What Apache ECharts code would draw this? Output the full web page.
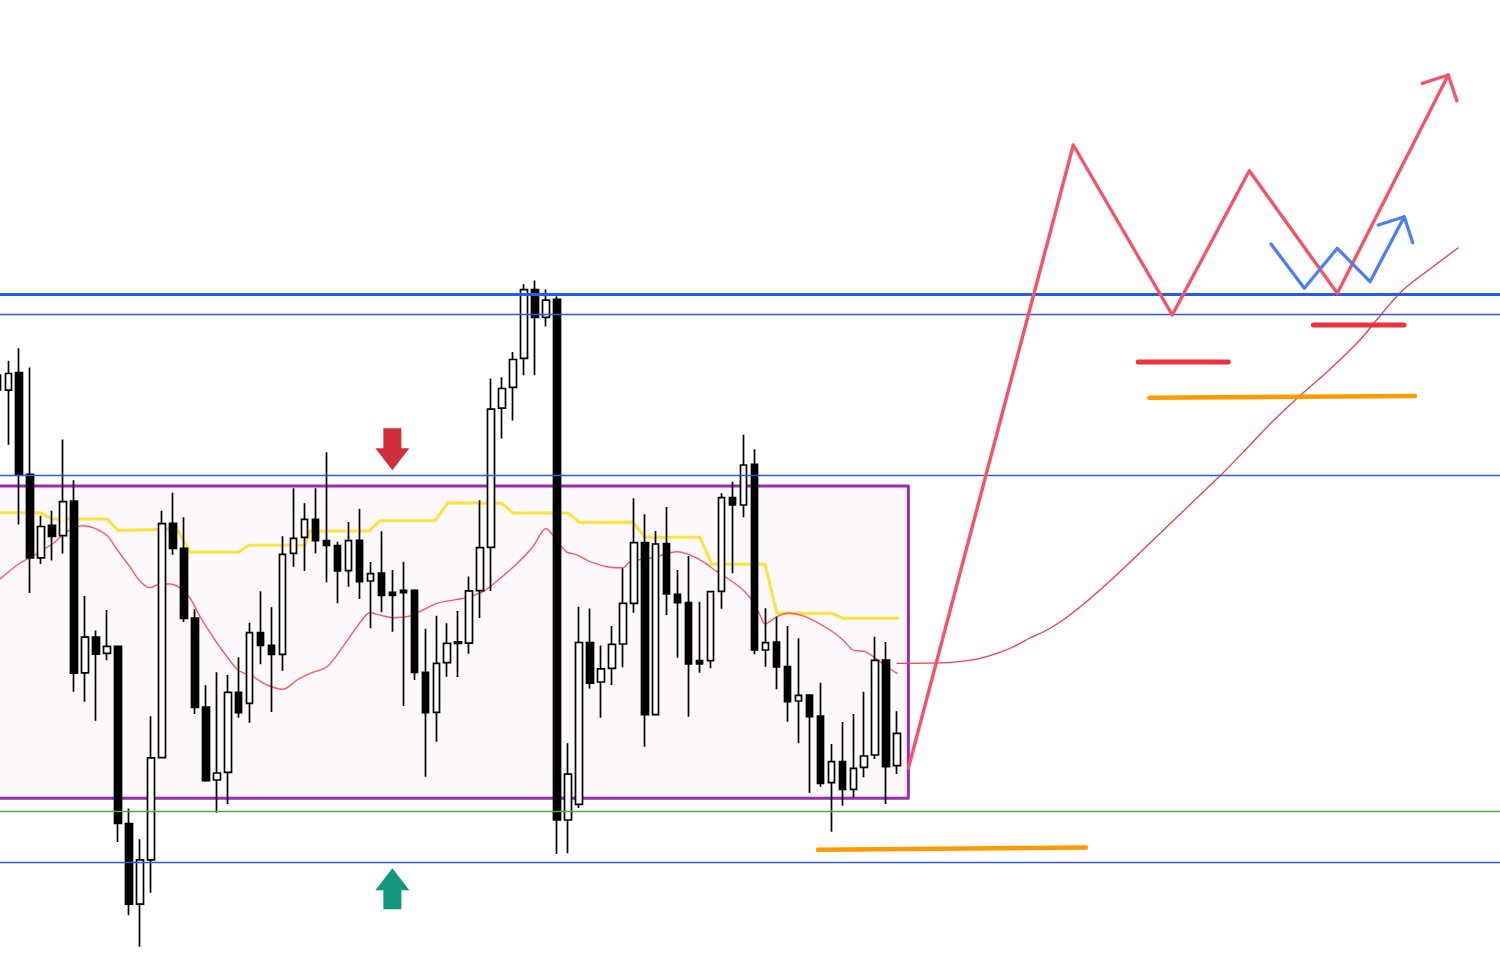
<!DOCTYPE html>
<html><head><meta charset="utf-8">
<script src="https://cdn.jsdelivr.net/npm/echarts@6/dist/echarts.min.js"></script>
<style>html,body{margin:0;padding:0;background:#ffffff}#c{width:1500px;height:963px}</style>
</head><body><div id="c"></div>
<script>
// ---- candle data (price index units), bar index = position in array ----
const opens = [625,609.9,627.3,525.7,442.2,474.7,464.4,498.8,327.2,362.8,346.6,353.7,176.5,95.9,140.1,242.3,476.7,451.7,382,293,220,227.7,307.7,296.7,367.3,354.7,345.7,446.7,462.7,480.7,459.3,454.3,429.3,459.7,419,427,407.7,409.7,409.7,327.7,287.7,337.3,358.2,356.8,409.4,452.7,591.9,612.6,641.6,710.4,682.6,700.7,180,195.7,357.5,318,331.7,356,396.7,457.3,285.3,456.3,405.7,397.3,339.3,339.3,408.7,502.3,495,535.7,350,358,333.3,299,305,284,217.3,238.3,210.7,232.7,245,340,234.3];
const closes = [610,626.5,525.3,442.2,473.5,463.6,498.4,326.8,362.8,345.8,353.7,176.5,95.9,140.1,242.2,476.3,451.7,381.7,292.7,219.3,227,307.7,287.3,367.3,354.7,345.7,445.7,461.7,480.7,459.3,454.7,429,459.3,418.3,426.3,404.7,404.7,407.3,327.7,287.3,336.7,356.7,356.7,409.1,452.3,590.8,611.5,640.5,710.4,682.6,699.9,180,225.8,357.5,316.9,331.2,355.7,396.7,457.3,285.3,456,406,397.3,336,336,408.3,502.3,495,535,350,357.3,333,298.3,304.7,283.3,216.7,238.3,210.7,231.7,244,339.7,233.3,266.7];
const lows = [600,555.3,475.5,407,436,439.5,446.6,308.2,298.3,279.3,339.8,158,84.8,53.2,107.3,242.3,445.3,378,286,218.3,187.3,196,282.3,277.3,335.7,288,329.3,433.3,429,446.7,417.7,396.7,413.3,401,371.7,387.7,368.3,294,320,223.3,258.3,323.3,322.9,346.2,382,409,561.4,579.5,624.7,624.7,673.6,146.1,146.8,192,311.6,282.3,315,332.7,387.3,253.3,285.3,385,342.3,283.3,327.3,331.7,391.3,426.7,482.7,345.7,333.3,310.7,278.3,256.7,207.3,213.3,168.3,194.3,202.7,222.7,241,196,226];
const highs = [632,639.2,651.8,632.4,484.2,489.3,560.5,519.7,403.9,369.5,390,353.7,191.6,160.7,283.7,489.3,507.3,482.7,390.7,314.7,327.7,325,342.7,377.3,408.7,392.7,463.7,511.7,496.7,511.7,547.7,458.3,478,491.3,438,468.7,430,438.3,410.7,371.3,384.3,376.7,389.1,423.4,499.7,621.6,622.8,648,715.7,719.5,710.4,703.7,256.7,393.3,391.4,354.5,374,431.7,501.7,485.7,469,493,430,444,398.3,408.3,506.7,518.3,565.3,550.7,391.7,383.3,374,361.7,305,317.3,256,278,286,308.3,363.3,358,288.7];

// ---- indicator lines [barIndex, price] ----
const maLine = [[0.25,421],[2.07,437],[3.25,444],[5.08,456.5],[6.35,468.3],[7.81,474.3],[8.72,472.3],[10.0,464.4],[10.91,450.5],[12.09,433],[13.0,419],[13.91,412.2],[14.83,416],[15.74,416],[16.65,412],[17.56,402],[18.47,383.3],[20.02,357],[20.93,343.3],[21.93,330],[23.3,323.3],[24.58,315],[26.03,310.7],[27.31,320],[28.5,326.7],[30.04,333.3],[31.5,353.3],[32.78,373.3],[33.96,387.3],[34.87,385],[36.06,382.3],[37.6,384],[38.79,390],[40.07,396.7],[42.16,401],[42.8,402.7],[44.26,408.3],[45.81,421.5],[47.36,436.5],[48.82,453.5],[50.0,471.5],[51.0,459.1],[51.91,447.8],[52.83,445.2],[54.01,438.4],[55.83,432.8],[57.02,432.3],[57.66,438.3],[58.84,440.7],[60.12,443.3],[61.03,446.7],[61.94,448.3],[63.12,445],[64.31,438.3],[65.58,428.3],[66.77,420],[67.95,410],[68.86,398.3],[69.5,385],[69.96,376],[71.05,383.3],[72.05,386.7],[73.78,382.7],[75.88,370],[77.06,360],[77.97,350],[79.07,348.3],[80.16,340.7],[81.07,333.3],[81.99,326.7]];
const htfLine = [[0.25,487.3],[3.89,487.3],[4.98,481],[10.0,481],[11.0,469.5],[16.38,471],[17.56,447.7],[21.93,447.7],[22.94,454.7],[28.04,455],[28.49,469],[33.87,469],[34.87,479.3],[39.89,479.3],[41.07,497.3],[45.99,496.7],[46.99,487],[52.0,487],[53.1,477.6],[57.93,477.7],[59.02,462.7],[64.03,462.7],[65.13,435.7],[69.96,435.7],[71.05,386.7],[76.06,386.7],[77.06,381.7],[82.07,381.7]];

// ---- drawn scenario ----
const maProjection = [[81.99,336.7],[86.54,337.3],[88.37,339.3],[89.55,341.7],[91.1,346.7],[92.56,353],[94.1,362],[95.65,370],[97.11,380],[98.66,393],[100.48,410],[102.76,433],[105.04,457],[107.32,481],[109.6,505],[111.87,529],[114.15,555],[116.25,579],[118.98,607],[121.17,628],[124.17,660],[125.99,684],[128.09,710],[130.55,731],[133.11,752]];
const redPath = [[83.02,231.7],[98.05,855],[107.07,685],[114.09,829.3],[122.11,706.7],[132.22,925]];
const redHead = [[129.85,916.7],[132.22,925],[133.0,899.3]];
const bluePath = [[116.07,756],[119.1,711.7],[122.11,751.7],[125.09,718.3],[128.21,783.3]];
const blueHead = [[125.84,775],[128.21,783.3],[128.98,757.3]];
const orangeLow = [[74.79,150.2],[99.21,152.4]];
const orangeHigh = [[104.98,602.3],[129.19,604]];
const redMarkA = [[103.97,638],[112.17,638]];
const redMarkB = [[119.92,675],[128.19,675]];

// ---- horizontal levels & range box ----
const levelMain = 705.7, levelUpper = 686, levelMid = 524.3, levelGreen = 188.3, levelLow = 137.5;
const boxLeft = -1, boxRight = 83.02, boxTop = 514, boxBottom = 201.7;
const sellArrow = [36, 550.8], buyArrow = [36, 111.2];

// visible bar-index window
const xMin = 0.246, xMax = 136.933;

const candleData = opens.map((o, i) => [i, o, closes[i], lows[i], highs[i]]);
const boxOutline = [[boxLeft, boxTop], [boxRight, boxTop], [boxRight, boxBottom], [boxLeft, boxBottom]];

function poly(data, color, width, z, smooth) {
  return {type: 'line', data: data, symbol: 'none', smooth: smooth || false,
    z: z, silent: true, lineStyle: {color: color, width: width, cap: 'round', join: 'round'}};
}
function hl(v, color, width) { return {yAxis: v, lineStyle: {color: color, width: width, type: 'solid'}}; }

const chart = echarts.init(document.getElementById('c'));
chart.setOption({
  animation: false,
  backgroundColor: '#ffffff',
  grid: {left: 0, right: 0, top: 0, bottom: 0, containLabel: false},
  xAxis: [{type: 'value', min: xMin, max: xMax, show: false}],
  yAxis: [{type: 'value', min: 37, max: 1000, show: false}],
  series: [
    {type: 'line', data: [[boxLeft, boxTop]], symbol: 'none', lineStyle: {opacity: 0}, z: 1, silent: true,
      markArea: {silent: true, itemStyle: {color: '#fcf8fc', borderWidth: 0},
        data: [[{coord: [boxLeft, boxTop]}, {coord: [boxRight, boxBottom]}]]},
      markLine: {silent: true, symbol: ['none', 'none'], label: {show: false},
        data: [hl(levelMain, '#2a5ae6', 3), hl(levelUpper, '#2a5ae6', 1.4), hl(levelMid, '#2a5ae6', 1.4),
               hl(levelGreen, '#4ca64c', 1.4), hl(levelLow, '#2a5ae6', 1.4)]},
      markPoint: {silent: true, label: {show: false},
        data: [
          {coord: sellArrow, symbol: 'path://M8,0 L26,0 L26,20 L34,20 L17,42 L0,20 L8,20 Z', symbolSize: [34, 42], itemStyle: {color: '#d22f3d'}},
          {coord: buyArrow, symbol: 'path://M17,0 L34,22 L26,22 L26,41 L8,41 L8,22 L0,22 Z', symbolSize: [34, 41], itemStyle: {color: '#13977b'}}
        ]}
    },
    poly(boxOutline, '#9b2bb0', 3, 1.5),
    poly(htfLine, '#ffe23c', 3, 2),
    poly(maLine, '#ff5a5f', 1.4, 2, 0.3),
    {type: 'candlestick', data: candleData, barWidth: 7, z: 3, silent: true,
      itemStyle: {color: '#ffffff', color0: '#000000', borderColor: '#000000', borderColor0: '#000000', borderWidth: 1.7}},
    poly(maProjection, '#f03c4c', 1.3, 4, 0.3),
    poly(orangeLow, '#ff9900', 4.5, 4),
    poly(orangeHigh, '#ff9900', 4.5, 4),
    poly(redMarkA, '#ef3042', 5, 4),
    poly(redMarkB, '#ef3042', 5, 4),
    poly(redPath, '#f25566', 3.4, 5),
    poly(redHead, '#f25566', 3.4, 5),
    poly(bluePath, '#4c7ff4', 3.3, 5),
    poly(blueHead, '#4c7ff4', 3.3, 5)
  ]
});
</script></body></html>
